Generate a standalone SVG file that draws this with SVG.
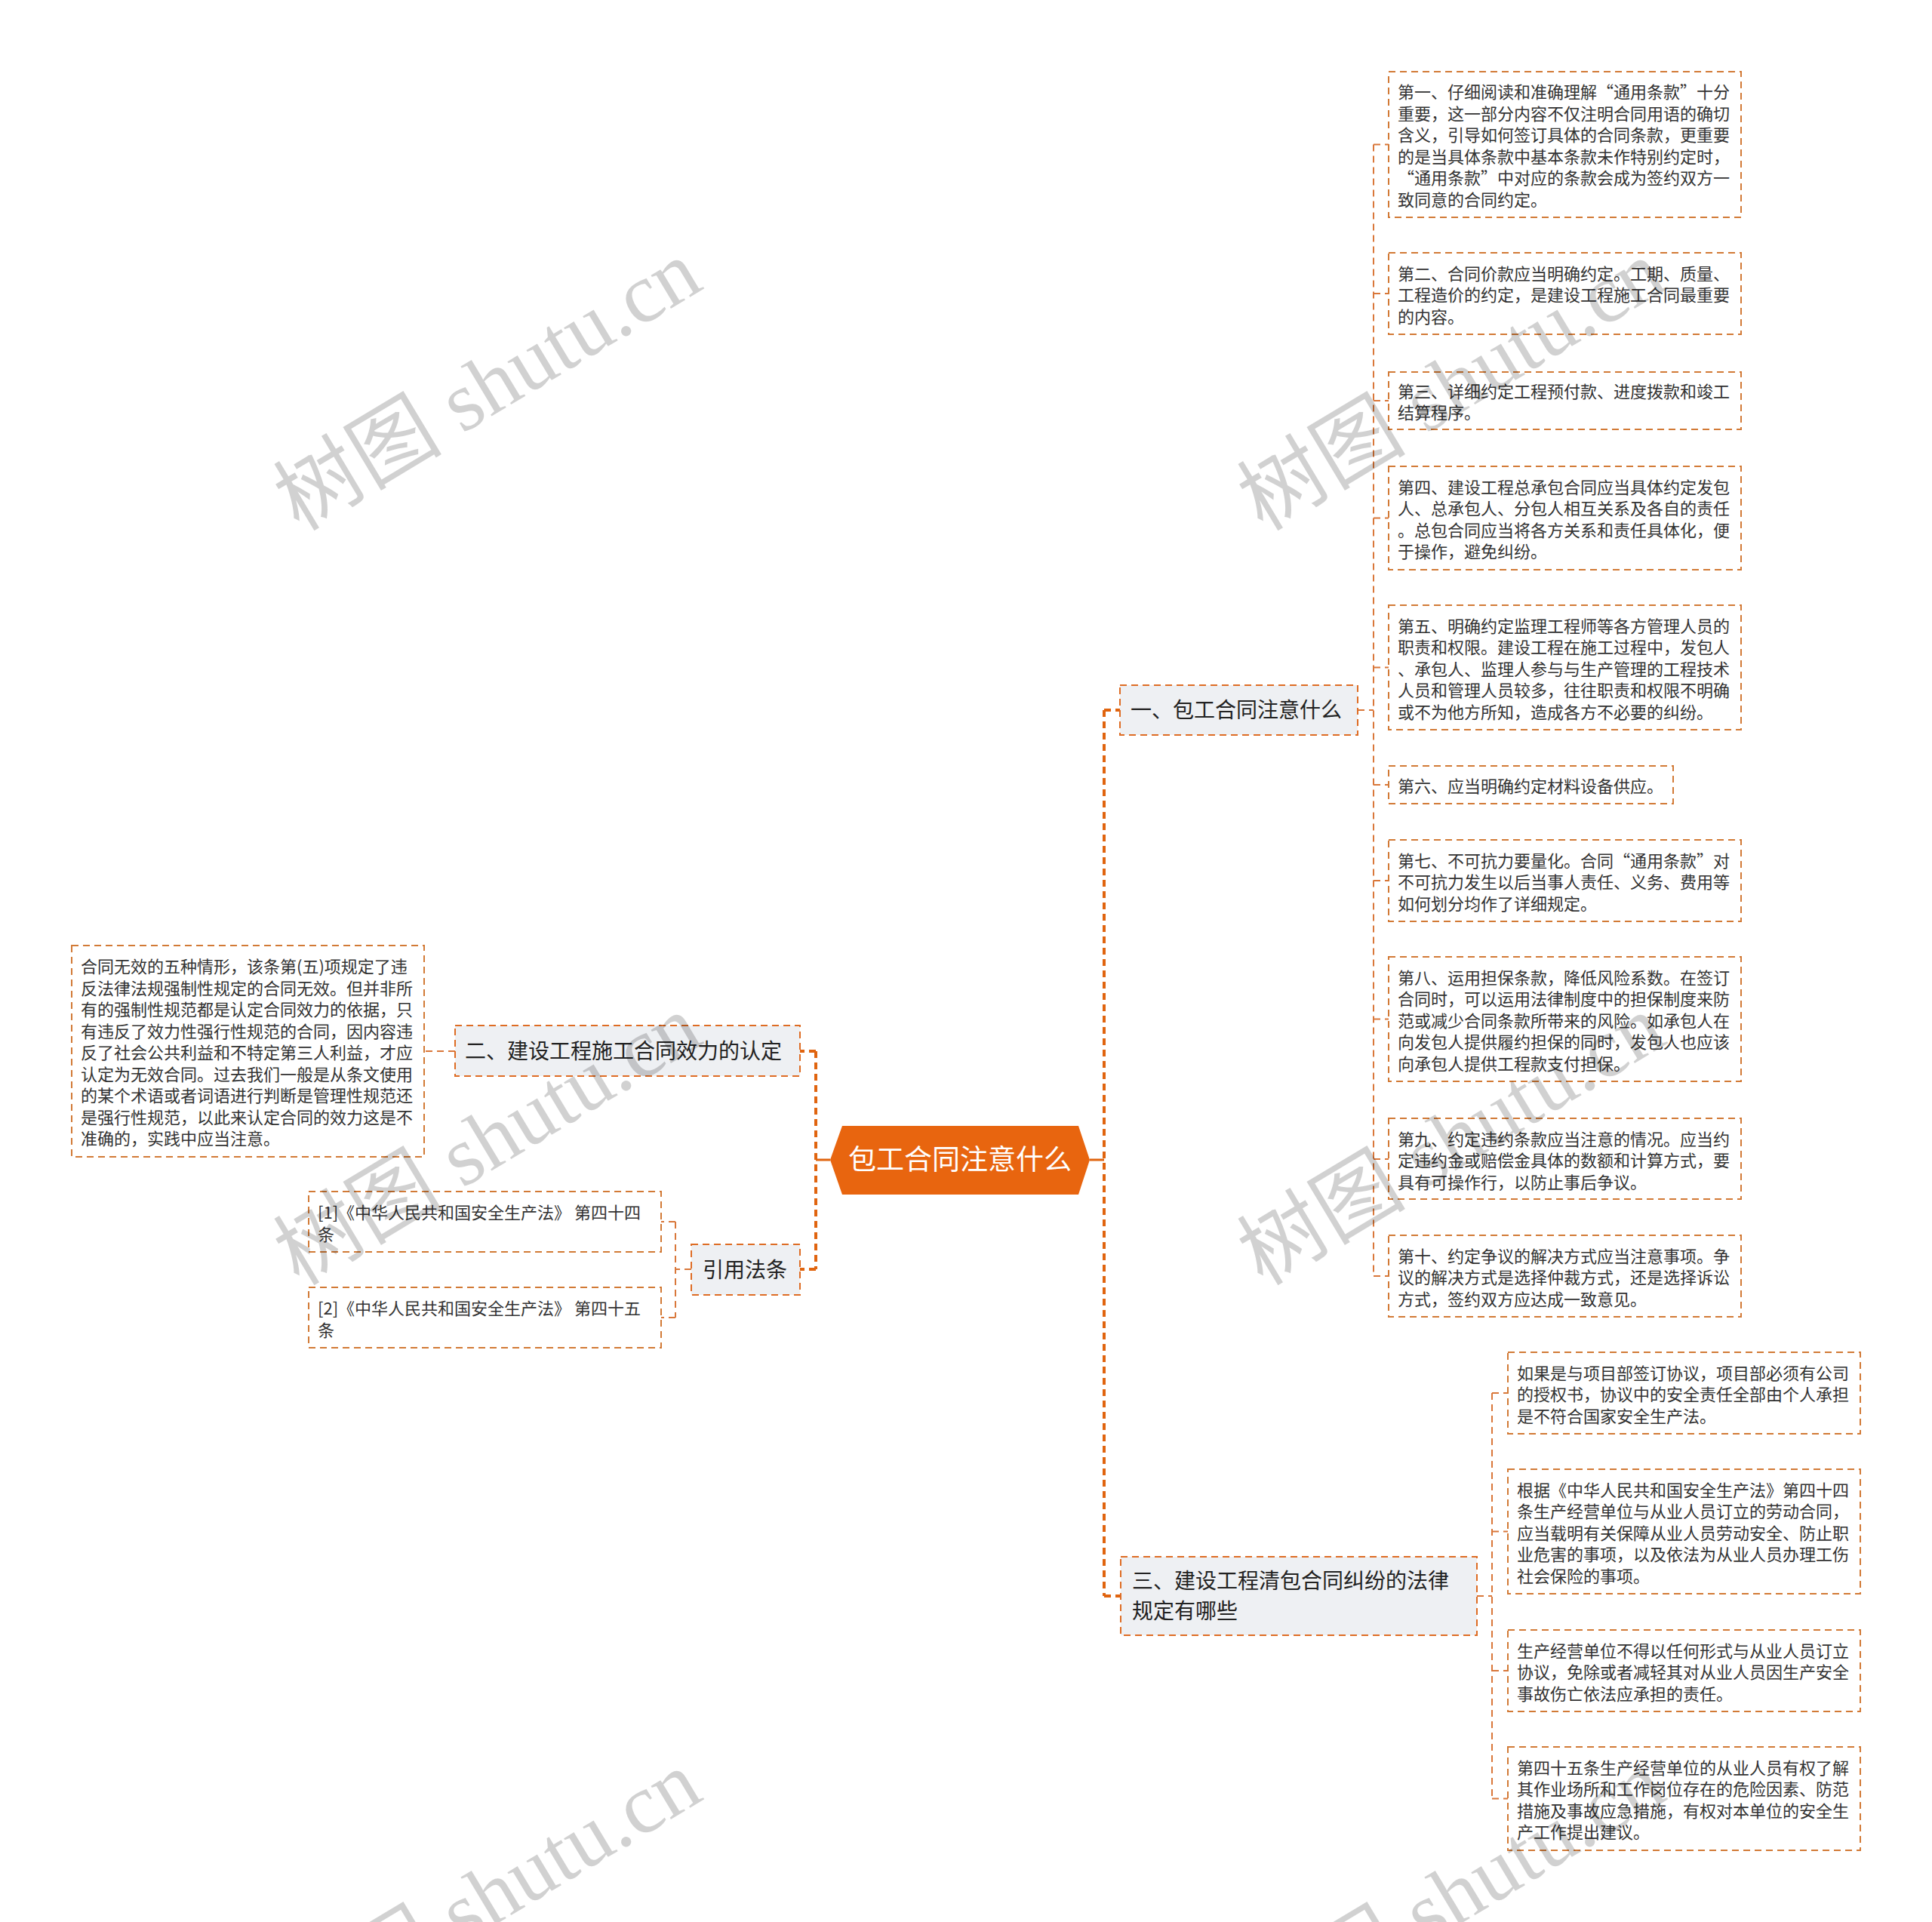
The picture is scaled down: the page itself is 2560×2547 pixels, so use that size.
<svg xmlns="http://www.w3.org/2000/svg" width="2560" height="2547" viewBox="0 0 2560 2547">
<style>
.leaf{fill:#ffffff;stroke:#d27a36;stroke-width:2;stroke-dasharray:9 6}
.branch{fill:#eef0f3;stroke:#de6c24;stroke-width:2;stroke-dasharray:9 6}
.lt{font-family:"Noto Sans CJK SC","Microsoft YaHei",sans-serif;font-size:22px;fill:#333333}
.bt{font-family:"Noto Sans CJK SC","Microsoft YaHei",sans-serif;font-size:28px;fill:#222222}
.rt{font-family:"Noto Sans CJK SC","Microsoft YaHei",sans-serif;font-size:37px;fill:#ffffff}
.trunk{fill:none;stroke:#e0640f;stroke-width:4;stroke-dasharray:9 6}
.thin{fill:none;stroke:#d9773a;stroke-width:2;stroke-dasharray:9 6}
.solid{fill:none;stroke:#e0640f;stroke-width:3}
.wm{font-family:"Liberation Serif","Noto Sans CJK SC",serif;font-size:112px;fill:#000000;fill-opacity:0.18}
</style>

<g id="connectors">
<path class="solid" d="M1444 1537 H1463 M1100 1537 H1081"/>
<path class="trunk" d="M1463 941 V2115 M1463 941 H1484 M1463 2115 H1485"/>
<path class="trunk" d="M1081 1393 V1682 M1081 1393 H1060 M1081 1682 H1060"/>
<path class="thin" d="M1799 941 H1820 M1820 191.5 V1691 M1820 191.5 H1840 M1820 389 H1840 M1820 531 H1840 M1820 686.5 H1840 M1820 884.5 H1840 M1820 1040 H1840 M1820 1167 H1840 M1820 1350.5 H1840 M1820 1536 H1840 M1820 1691 H1840"/>
<path class="thin" d="M603 1393 H562"/>
<path class="thin" d="M916 1682 H895 M895 1619 V1746 M895 1619 H876 M895 1746 H876"/>
<path class="thin" d="M1957 2115 H1977 M1977 1846 V2383.5 M1977 1846 H1998 M1977 2029.5 H1998 M1977 2214 H1998 M1977 2383.5 H1998"/>
</g>

<g id="root">
<polygon points="1100,1537 1116,1492 1429,1492 1444,1537 1429,1583 1116,1583" fill="#e8650f"/>
<text class="rt" x="1272" y="1550" text-anchor="middle">包工合同注意什么</text>
</g>

<g id="b1">
<rect class="branch" x="1484" y="908" width="315" height="66"/>
<text class="bt" x="1498" y="951">一、包工合同注意什么</text>
</g>

<g id="b2">
<rect class="branch" x="603" y="1359" width="457" height="67"/>
<text class="bt" x="616" y="1403">二、建设工程施工合同效力的认定</text>
</g>

<g id="b4">
<rect class="branch" x="916" y="1649" width="144" height="67"/>
<text class="bt" x="931" y="1693">引用法条</text>
</g>

<g id="b3">
<rect class="branch" x="1485" y="2063" width="472" height="104"/>
<text class="bt" x="1500" y="2105">三、建设工程清包合同纠纷的法律</text>
<text class="bt" x="1500" y="2145">规定有哪些</text>
</g>

<g id="n1">
<rect class="leaf" x="1840" y="95" width="467" height="193"/>
<text class="lt" x="1852" y="130">第一、仔细阅读和准确理解“通用条款”十分</text>
<text class="lt" x="1852" y="158.5">重要，这一部分内容不仅注明合同用语的确切</text>
<text class="lt" x="1852" y="187">含义，引导如何签订具体的合同条款，更重要</text>
<text class="lt" x="1852" y="215.5">的是当具体条款中基本条款未作特别约定时，</text>
<text class="lt" x="1852" y="244">“通用条款”中对应的条款会成为签约双方一</text>
<text class="lt" x="1852" y="272.5">致同意的合同约定。</text>
</g>

<g id="n2">
<rect class="leaf" x="1840" y="335" width="467" height="108"/>
<text class="lt" x="1852" y="370.5">第二、合同价款应当明确约定。工期、质量、</text>
<text class="lt" x="1852" y="399">工程造价的约定，是建设工程施工合同最重要</text>
<text class="lt" x="1852" y="427.5">的内容。</text>
</g>

<g id="n3">
<rect class="leaf" x="1840" y="493" width="467" height="76"/>
<text class="lt" x="1852" y="526.5">第三、详细约定工程预付款、进度拨款和竣工</text>
<text class="lt" x="1852" y="555">结算程序。</text>
</g>

<g id="n4">
<rect class="leaf" x="1840" y="618" width="467" height="137"/>
<text class="lt" x="1852" y="653.5">第四、建设工程总承包合同应当具体约定发包</text>
<text class="lt" x="1852" y="682">人、总承包人、分包人相互关系及各自的责任</text>
<text class="lt" x="1852" y="710.5">。总包合同应当将各方关系和责任具体化，便</text>
<text class="lt" x="1852" y="739">于操作，避免纠纷。</text>
</g>

<g id="n5">
<rect class="leaf" x="1840" y="802" width="467" height="165"/>
<text class="lt" x="1852" y="837.5">第五、明确约定监理工程师等各方管理人员的</text>
<text class="lt" x="1852" y="866">职责和权限。建设工程在施工过程中，发包人</text>
<text class="lt" x="1852" y="894.5">、承包人、监理人参与与生产管理的工程技术</text>
<text class="lt" x="1852" y="923">人员和管理人员较多，往往职责和权限不明确</text>
<text class="lt" x="1852" y="951.5">或不为他方所知，造成各方不必要的纠纷。</text>
</g>

<g id="n6">
<rect class="leaf" x="1840" y="1015" width="377" height="50"/>
<text class="lt" x="1852" y="1050">第六、应当明确约定材料设备供应。</text>
</g>

<g id="n7">
<rect class="leaf" x="1840" y="1113" width="467" height="108"/>
<text class="lt" x="1852" y="1148.5">第七、不可抗力要量化。合同“通用条款”对</text>
<text class="lt" x="1852" y="1177">不可抗力发生以后当事人责任、义务、费用等</text>
<text class="lt" x="1852" y="1205.5">如何划分均作了详细规定。</text>
</g>

<g id="n8">
<rect class="leaf" x="1840" y="1268" width="467" height="165"/>
<text class="lt" x="1852" y="1303.5">第八、运用担保条款，降低风险系数。在签订</text>
<text class="lt" x="1852" y="1332">合同时，可以运用法律制度中的担保制度来防</text>
<text class="lt" x="1852" y="1360.5">范或减少合同条款所带来的风险。如承包人在</text>
<text class="lt" x="1852" y="1389">向发包人提供履约担保的同时，发包人也应该</text>
<text class="lt" x="1852" y="1417.5">向承包人提供工程款支付担保。</text>
</g>

<g id="n9">
<rect class="leaf" x="1840" y="1482" width="467" height="107"/>
<text class="lt" x="1852" y="1517.5">第九、约定违约条款应当注意的情况。应当约</text>
<text class="lt" x="1852" y="1546">定违约金或赔偿金具体的数额和计算方式，要</text>
<text class="lt" x="1852" y="1574.5">具有可操作行，以防止事后争议。</text>
</g>

<g id="n10">
<rect class="leaf" x="1840" y="1637" width="467" height="108"/>
<text class="lt" x="1852" y="1672.5">第十、约定争议的解决方式应当注意事项。争</text>
<text class="lt" x="1852" y="1701">议的解决方式是选择仲裁方式，还是选择诉讼</text>
<text class="lt" x="1852" y="1729.5">方式，签约双方应达成一致意见。</text>
</g>

<g id="n11">
<rect class="leaf" x="95" y="1253" width="467" height="280"/>
<text class="lt" x="107" y="1289">合同无效的五种情形，该条第(五)项规定了违</text>
<text class="lt" x="107" y="1317.5">反法律法规强制性规定的合同无效。但并非所</text>
<text class="lt" x="107" y="1346">有的强制性规范都是认定合同效力的依据，只</text>
<text class="lt" x="107" y="1374.5">有违反了效力性强行性规范的合同，因内容违</text>
<text class="lt" x="107" y="1403">反了社会公共利益和不特定第三人利益，才应</text>
<text class="lt" x="107" y="1431.5">认定为无效合同。过去我们一般是从条文使用</text>
<text class="lt" x="107" y="1460">的某个术语或者词语进行判断是管理性规范还</text>
<text class="lt" x="107" y="1488.5">是强行性规范，以此来认定合同的效力这是不</text>
<text class="lt" x="107" y="1517">准确的，实践中应当注意。</text>
</g>

<g id="c1">
<rect class="leaf" x="409" y="1579" width="467" height="80"/>
<text class="lt" x="421" y="1615">[1]《中华人民共和国安全生产法》 第四十四</text>
<text class="lt" x="421" y="1643.5">条</text>
</g>

<g id="c2">
<rect class="leaf" x="409" y="1706" width="467" height="80"/>
<text class="lt" x="421" y="1742">[2]《中华人民共和国安全生产法》 第四十五</text>
<text class="lt" x="421" y="1770.5">条</text>
</g>

<g id="n12">
<rect class="leaf" x="1998" y="1792" width="467" height="108"/>
<text class="lt" x="2010" y="1827.5">如果是与项目部签订协议，项目部必须有公司</text>
<text class="lt" x="2010" y="1856">的授权书，协议中的安全责任全部由个人承担</text>
<text class="lt" x="2010" y="1884.5">是不符合国家安全生产法。</text>
</g>

<g id="n13">
<rect class="leaf" x="1998" y="1947" width="467" height="165"/>
<text class="lt" x="2010" y="1982.5">根据《中华人民共和国安全生产法》第四十四</text>
<text class="lt" x="2010" y="2011">条生产经营单位与从业人员订立的劳动合同，</text>
<text class="lt" x="2010" y="2039.5">应当载明有关保障从业人员劳动安全、防止职</text>
<text class="lt" x="2010" y="2068">业危害的事项，以及依法为从业人员办理工伤</text>
<text class="lt" x="2010" y="2096.5">社会保险的事项。</text>
</g>

<g id="n14">
<rect class="leaf" x="1998" y="2160" width="467" height="108"/>
<text class="lt" x="2010" y="2195.5">生产经营单位不得以任何形式与从业人员订立</text>
<text class="lt" x="2010" y="2224">协议，免除或者减轻其对从业人员因生产安全</text>
<text class="lt" x="2010" y="2252.5">事故伤亡依法应承担的责任。</text>
</g>

<g id="n15">
<rect class="leaf" x="1998" y="2315" width="467" height="137"/>
<text class="lt" x="2010" y="2350.5">第四十五条生产经营单位的从业人员有权了解</text>
<text class="lt" x="2010" y="2379">其作业场所和工作岗位存在的危险因素、防范</text>
<text class="lt" x="2010" y="2407.5">措施及事故应急措施，有权对本单位的安全生</text>
<text class="lt" x="2010" y="2436">产工作提出建议。</text>
</g>

<g id="watermarks">
<text class="wm" x="648" y="548" text-anchor="middle" transform="rotate(-31 648 514)">树图 shutu.cn</text>
<text class="wm" x="1925" y="548" text-anchor="middle" transform="rotate(-31 1925 514)">树图 shutu.cn</text>
<text class="wm" x="648" y="1548" text-anchor="middle" transform="rotate(-31 648 1514)">树图 shutu.cn</text>
<text class="wm" x="1925" y="1548" text-anchor="middle" transform="rotate(-31 1925 1514)">树图 shutu.cn</text>
<text class="wm" x="648" y="2550" text-anchor="middle" transform="rotate(-31 648 2516)">树图 shutu.cn</text>
<text class="wm" x="1925" y="2550" text-anchor="middle" transform="rotate(-31 1925 2516)">树图 shutu.cn</text>
</g>
</svg>
